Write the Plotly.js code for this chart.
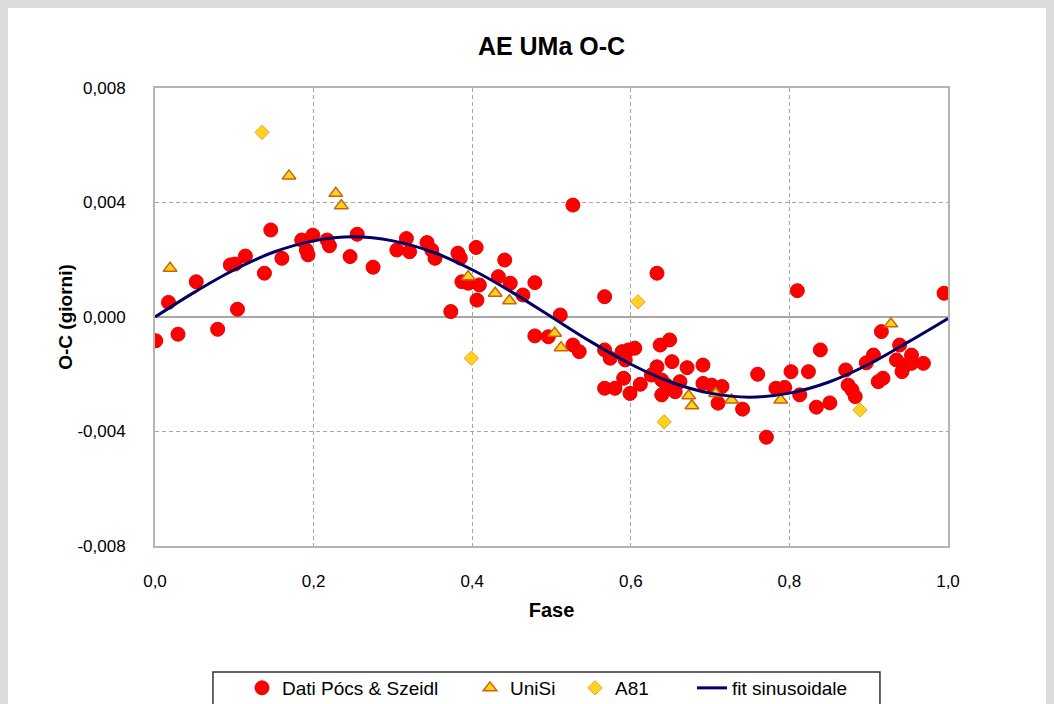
<!DOCTYPE html>
<html>
<head>
<meta charset="utf-8">
<script src="https://cdn.plot.ly/plotly-3.0.1.min.js"></script>
<style>
  html, body { margin: 0; padding: 0; background: #dcdcdc; width: 1054px; height: 704px; overflow: hidden; }
  #chart { position: absolute; left: 8px; top: 8px; width: 1038px; height: 700px; background: #fff; }
</style>
</head>
<body>
<div id="chart"></div>
<script>
// Dati Pócs & Szeidl (phase, O-C days)
const pocsPhase = [0.001,0.017,0.029,0.052,0.079,0.095,0.101,0.104,0.114,0.138,0.146,0.160,0.185,0.191,0.193,0.199,0.217,0.220,0.246,0.255,0.275,0.305,0.317,0.321,0.343,0.349,0.353,0.382,0.385,0.405,0.387,0.395,0.409,0.406,0.373,0.441,0.433,0.448,0.464,0.479,0.511,0.527,0.479,0.496,0.527,0.535,0.567,0.633,0.567,0.574,0.589,0.597,0.605,0.593,0.567,0.580,0.591,0.599,0.612,0.637,0.649,0.633,0.652,0.626,0.639,0.645,0.656,0.639,0.662,0.671,0.691,0.691,0.702,0.715,0.710,0.741,0.760,0.771,0.783,0.794,0.802,0.813,0.824,0.834,0.839,0.851,0.810,0.995,0.916,0.939,0.954,0.935,0.946,0.942,0.969,0.954,0.906,0.897,0.871,0.912,0.918,0.874,0.879,0.883];
const pocsOC = [-0.00083,0.00051,-0.00060,0.00123,-0.00043,0.00182,0.00185,0.00027,0.00213,0.00153,0.00304,0.00205,0.00269,0.00234,0.00217,0.00286,0.00269,0.00249,0.00211,0.00289,0.00174,0.00234,0.00274,0.00228,0.00260,0.00234,0.00205,0.00223,0.00206,0.00243,0.00123,0.00118,0.00112,0.00059,0.00019,0.00199,0.00141,0.00118,0.00077,0.00120,0.00007,0.00391,-0.00066,-0.00069,-0.00098,-0.00121,0.00071,0.00153,-0.00115,-0.00144,-0.00121,-0.00115,-0.00109,-0.00150,-0.00249,-0.00249,-0.00214,-0.00267,-0.00235,-0.00098,-0.00080,-0.00174,-0.00156,-0.00203,-0.00220,-0.00238,-0.00261,-0.00272,-0.00226,-0.00177,-0.00168,-0.00232,-0.00238,-0.00243,-0.00301,-0.00322,-0.00200,-0.00420,-0.00249,-0.00246,-0.00191,-0.00272,-0.00191,-0.00315,-0.00115,-0.00300,0.00092,0.00083,-0.00051,-0.00098,-0.00133,-0.00150,-0.00168,-0.00191,-0.00162,-0.00162,-0.00133,-0.00160,-0.00185,-0.00226,-0.00214,-0.00238,-0.00255,-0.00278];

// UniSi
const unisiPhase = [0.019,0.169,0.228,0.235,0.395,0.429,0.447,0.504,0.512,0.673,0.677,0.707,0.727,0.789,0.928];
const unisiOC = [0.00170,0.00493,0.00432,0.00389,0.00141,0.00083,0.00057,-0.00057,-0.00107,-0.00275,-0.00310,-0.00267,-0.00290,-0.00290,-0.00024];

// A81
const a81Phase = [0.135,0.399,0.609,0.642,0.889];
const a81OC = [0.00645,-0.00144,0.00053,-0.00366,-0.00325];

// fit sinusoidale
const fitPhase = [0,0.05,0.1,0.15,0.2,0.25,0.3,0.35,0.4,0.45,0.5,0.55,0.6,0.65,0.7,0.75,0.8,0.85,0.9,0.95,1.0];
const fitOC = [0,0.00087,0.00165,0.00227,0.00266,0.0028,0.00266,0.00227,0.00165,0.00087,0,-0.00087,-0.00165,-0.00227,-0.00266,-0.0028,-0.00266,-0.00227,-0.00165,-0.00087,-0.00005];

// tick labels
const xTickVals = [0, 0.2, 0.4, 0.6, 0.8, 1.0];
const xTickText = ['0,0', '0,2', '0,4', '0,6', '0,8', '1,0'];
const yTickVals = [-0.008, -0.004, 0, 0.004, 0.008];
const yTickText = ['-0,008', '-0,004', '0,000', '0,004', '0,008'];

// labels
const chartTitle = 'AE UMa O-C';
const xTitle = 'Fase';
const yTitle = 'O-C (giorni)';
const names = ['Dati Pócs & Szeidl', 'UniSi', 'A81', 'fit sinusoidale'];

const FONT = '"Liberation Sans", Arial, sans-serif';

const traces = [
  { x: pocsPhase, y: pocsOC, name: names[0], type: 'scatter', mode: 'markers', legend: 'legend',
    marker: { symbol: 'circle', size: 14, color: '#ff0000', line: { color: '#e60000', width: 1 } } },
  { x: unisiPhase, y: unisiOC, name: names[1], type: 'scatter', mode: 'markers', legend: 'legend2',
    marker: { symbol: 'triangle-up', size: 12, color: '#ffd21f', line: { color: '#c8640a', width: 1.5 } } },
  { x: a81Phase, y: a81OC, name: names[2], type: 'scatter', mode: 'markers', legend: 'legend3',
    marker: { symbol: 'diamond', size: 11, color: '#ffd21f', line: { color: '#f0a020', width: 1 } } },
  { x: fitPhase, y: fitOC, name: names[3], type: 'scatter', mode: 'lines', legend: 'legend4',
    line: { color: '#000066', width: 3, shape: 'spline' } }
];

function leg(x) {
  return { orientation: 'h', x: x, xref: 'paper', xanchor: 'left', y: 0.0557, yref: 'container', yanchor: 'top',
           font: { family: FONT, size: 19, color: '#000' }, bgcolor: 'rgba(0,0,0,0)', borderwidth: 0 };
}

const layout = {
  width: 1038, height: 700,
  paper_bgcolor: '#ffffff', plot_bgcolor: '#ffffff',
  separators: ',.',
  font: { family: FONT, size: 17, color: '#000' },
  margin: { l: 147, r: 98, t: 80, b: 162, autoexpand: false },
  title: { text: '<b>' + chartTitle + '</b>', font: { family: FONT, size: 25, color: '#000' },
           x: 0.5, xref: 'paper', xanchor: 'center', y: 0.945, yref: 'container', yanchor: 'middle' },
  xaxis: {
    range: [0, 1], tickmode: 'array', tickvals: xTickVals, ticktext: xTickText,
    showgrid: true, gridcolor: '#a6a6a6', griddash: '4px,3px', gridwidth: 1,
    showline: true, mirror: true, linecolor: '#b4b4b4', linewidth: 2,
    zeroline: false, ticks: '', ticklabelstandoff: 19, automargin: false,
    tickfont: { family: FONT, size: 17 },
    title: { text: '<b>' + xTitle + '</b>', font: { family: FONT, size: 20 }, standoff: 13 },
    fixedrange: true
  },
  yaxis: {
    range: [-0.008, 0.008], tickmode: 'array', tickvals: yTickVals, ticktext: yTickText,
    showgrid: true, gridcolor: '#a6a6a6', griddash: '4px,3px', gridwidth: 1,
    showline: true, mirror: true, linecolor: '#b4b4b4', linewidth: 2,
    zeroline: true, zerolinecolor: '#a6a6a6', zerolinewidth: 1.5,
    ticks: '', ticklabelstandoff: 24, automargin: false,
    tickfont: { family: FONT, size: 17 },
    title: { text: '<b>' + yTitle + '</b>', font: { family: FONT, size: 19 }, standoff: 0 },
    fixedrange: true
  },
  showlegend: true,
  legend: leg(0.1097),
  legend2: leg(0.3972),
  legend3: leg(0.5296),
  legend4: leg(0.6772),
  shapes: [
    { type: 'rect', xref: 'paper', yref: 'paper', x0: 0.0731, x1: 0.9142, y0: -0.275, y1: -0.37,
      line: { color: '#333333', width: 1.5 }, fillcolor: 'rgba(0,0,0,0)', layer: 'below' }
  ]
};

Plotly.newPlot('chart', traces, layout, { displayModeBar: false, staticPlot: true });
</script>
</body>
</html>
